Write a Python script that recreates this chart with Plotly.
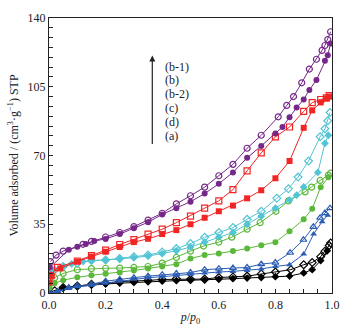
import plotly.graph_objects as go

# ---- data (p/p0, volume adsorbed) ----
# (b-1) purple circles
b1_ads_p = [0.003, 0.07, 0.1, 0.13, 0.16, 0.2, 0.25, 0.3, 0.35, 0.4, 0.45, 0.5, 0.55, 0.6, 0.65, 0.7, 0.75, 0.8, 0.825, 0.85, 0.875, 0.9, 0.92, 0.945, 0.975, 0.985, 0.995]
b1_ads_v = [13, 22, 23.5, 25, 26.5, 27.5, 30, 33, 36, 40, 43.2, 46.5, 50.6, 55.6, 61.4, 68.8, 74.9, 81.2, 84.5, 89.5, 94.4, 98.5, 103.4, 108.4, 118.3, 121, 127]
b1_des_p = [0.995, 0.985, 0.975, 0.965, 0.945, 0.92, 0.893, 0.864, 0.84, 0.81, 0.75, 0.7, 0.65, 0.6, 0.55, 0.5, 0.45, 0.4, 0.35, 0.3, 0.25, 0.2, 0.15, 0.12, 0.05, 0.025, 0.005]
b1_des_v = [133, 129, 126, 123.5, 119, 114, 107, 100, 95.5, 89.7, 80.3, 73.7, 65.5, 59.7, 53.9, 49.5, 45.4, 40.6, 37.1, 33.8, 30.8, 28.5, 26.3, 24.8, 21.3, 19.3, 16]

# (b) red squares
b_ads_p = [0.002, 0.01, 0.04, 0.1, 0.15, 0.2, 0.25, 0.3, 0.35, 0.4, 0.45, 0.5, 0.55, 0.6, 0.65, 0.7, 0.75, 0.8, 0.85, 0.9, 0.93, 0.96, 0.98, 0.99]
b_ads_v = [5.3, 8.5, 12.5, 16, 18.5, 21, 23.4, 25.9, 27.6, 30, 32, 35, 38.3, 41.6, 44.5, 48.2, 52.3, 58.4, 67.2, 84.1, 93, 97, 99, 100]
b_des_p = [0.99, 0.98, 0.96, 0.93, 0.9, 0.85, 0.8, 0.75, 0.7, 0.65, 0.6, 0.55, 0.5, 0.45, 0.4, 0.35, 0.3, 0.25, 0.2, 0.15, 0.1, 0.03, 0.005]
b_des_v = [100.5, 99.3, 98.5, 96.9, 92.5, 84.5, 79.5, 71.3, 62.2, 52.6, 46.9, 43.2, 39.1, 35.8, 32.5, 30, 27.2, 24.7, 21.8, 19, 16.3, 13, 9]

# (b-2) cyan diamonds
b2_ads_p = [0.002, 0.02, 0.05, 0.08, 0.12, 0.15, 0.2, 0.25, 0.3, 0.35, 0.4, 0.45, 0.5, 0.55, 0.6, 0.65, 0.7, 0.75, 0.8, 0.85, 0.875, 0.9, 0.95, 0.975, 0.987]
b2_ads_v = [10, 12, 13.5, 14.8, 16, 16.5, 16.8, 17.3, 18, 18.8, 20, 21.5, 23.4, 25.9, 28.4, 30.8, 35, 39.1, 43.2, 47.4, 49.8, 54, 61.4, 76.2, 80.3]
b2_des_p = [0.993, 0.985, 0.975, 0.958, 0.917, 0.88, 0.846, 0.805, 0.75, 0.7, 0.65, 0.6, 0.55, 0.5, 0.45, 0.4, 0.35, 0.3, 0.25, 0.2, 0.15, 0.1, 0.05, 0.005]
b2_des_v = [91.9, 87.7, 83.6, 79.5, 67.2, 59, 53.1, 48.2, 41.6, 37.5, 33.3, 30.8, 28.4, 25.2, 22.6, 20.9, 19.3, 18.5, 17.6, 16.8, 16.5, 15.2, 13.5, 11]

# (c) green circles
c_ads_p = [0.002, 0.02, 0.05, 0.1, 0.15, 0.2, 0.25, 0.3, 0.35, 0.4, 0.45, 0.5, 0.55, 0.6, 0.65, 0.7, 0.75, 0.8, 0.85, 0.9, 0.93, 0.96, 0.987]
c_ads_v = [2.8, 5, 6.5, 8, 9, 9.8, 10.5, 11.5, 12.5, 13.5, 14.7, 17.6, 19.3, 20.1, 21.4, 22.6, 24.3, 25.9, 31.4, 37.5, 42.9, 53.9, 58.9]
c_des_p = [0.995, 0.987, 0.958, 0.928, 0.905, 0.846, 0.802, 0.746, 0.7, 0.646, 0.6, 0.546, 0.5, 0.45, 0.4, 0.35, 0.3, 0.25, 0.2, 0.15, 0.1, 0.05, 0.02]
c_des_v = [61, 60, 57.3, 53.9, 51.5, 46.9, 41.6, 35.8, 32.5, 28.4, 25.9, 23.9, 21.3, 18.1, 15.2, 13.5, 13, 12.7, 12.6, 12.4, 11.9, 10, 7.8]

# (d) blue triangles
d_ads_p = [0.002, 0.03, 0.07, 0.1, 0.15, 0.2, 0.25, 0.3, 0.35, 0.4, 0.45, 0.5, 0.55, 0.6, 0.65, 0.7, 0.75, 0.8, 0.85, 0.9, 0.935, 0.965, 0.985]
d_ads_v = [0, 0.5, 2.3, 3.2, 4, 5, 6, 7, 7.8, 8.3, 8.9, 9.4, 10.2, 10.7, 11, 11.5, 12.2, 13.5, 14.4, 19.8, 30, 36.3, 39.6]
d_des_p = [0.993, 0.975, 0.958, 0.934, 0.899, 0.852, 0.8, 0.75, 0.7, 0.65, 0.6, 0.55, 0.5, 0.45, 0.4, 0.35, 0.3, 0.25, 0.2, 0.15, 0.1, 0.07, 0.03, 0.005]
d_des_v = [43.2, 40.7, 38.3, 33.7, 27.1, 20.5, 15.5, 14.7, 13, 12.7, 12.4, 11.9, 10.4, 9.9, 9.3, 8.6, 7.8, 6.9, 6, 4.5, 3.6, 2.8, 0.8, 0.2]

# (a) black diamonds
a_ads_p = [0.002, 0.05, 0.1, 0.15, 0.2, 0.25, 0.3, 0.35, 0.4, 0.45, 0.5, 0.55, 0.6, 0.65, 0.7, 0.75, 0.8, 0.85, 0.9, 0.93, 0.96, 0.983]
a_ads_v = [0.5, 2.5, 3.3, 4, 4.6, 5, 5.4, 5.7, 6, 6.3, 6.5, 6.6, 7, 7.3, 7.6, 7.9, 8.3, 8.6, 10.2, 11.9, 16.5, 21.5]
a_des_p = [0.995, 0.99, 0.975, 0.96, 0.93, 0.9, 0.855, 0.8, 0.75, 0.7, 0.65, 0.6, 0.55, 0.5, 0.45, 0.4, 0.35, 0.3, 0.25, 0.2, 0.15, 0.1, 0.05, 0.02]
a_des_v = [25.5, 24.2, 21.3, 18.5, 15.5, 14.4, 11.9, 10.7, 9.7, 8.6, 8.2, 7.9, 7.1, 7, 7.2, 6.9, 6.4, 6.1, 5.8, 5.1, 4.5, 3.6, 2.8, 1.2]

legend_labels = ["(b-1)", "(b)", "(b-2)", "(c)", "(d)", "(a)"]

series = [
    # (name, colour, symbol, ads_p, ads_v, des_p, des_v)
    ("(a)", "#000000", "diamond", a_ads_p, a_ads_v, a_des_p, a_des_v),
    ("(d)", "#2b5db5", "triangle-up", d_ads_p, d_ads_v, d_des_p, d_des_v),
    ("(c)", "#5cb83a", "circle", c_ads_p, c_ads_v, c_des_p, c_des_v),
    ("(b-2)", "#52c4d3", "diamond", b2_ads_p, b2_ads_v, b2_des_p, b2_des_v),
    ("(b)", "#f22525", "square", b_ads_p, b_ads_v, b_des_p, b_des_v),
    ("(b-1)", "#76288a", "circle", b1_ads_p, b1_ads_v, b1_des_p, b1_des_v),
]

fig = go.Figure()
for name, col, sym, ap, av, dp, dv in series:
    fig.add_trace(go.Scatter(
        x=dp, y=dv, mode="lines+markers", name=name + " des",
        line=dict(color=col, width=1),
        marker=dict(symbol=sym + "-open", size=6, color=col, line=dict(color=col, width=1.2)),
        showlegend=False))
    fig.add_trace(go.Scatter(
        x=ap, y=av, mode="lines+markers", name=name + " ads",
        line=dict(color=col, width=1),
        marker=dict(symbol=sym, size=6, color=col, line=dict(width=0)),
        showlegend=False))

FONT = "Liberation Serif, Times New Roman, serif"

fig.update_layout(
    width=351, height=333,
    margin=dict(l=49, r=19, t=11, b=39),
    paper_bgcolor="white", plot_bgcolor="white",
    font=dict(family=FONT, size=12, color="#222"),
    xaxis=dict(range=[0, 1], dtick=0.2, tickformat=".1f", ticks="inside", ticklen=4,
               tickcolor="#222", showline=True, linecolor="#222", linewidth=1.2, mirror=True,
               showgrid=False, zeroline=False,
               minor=dict(dtick=0.05, ticks="inside", ticklen=4, tickcolor="#222"),
               title=dict(text="<i>p</i>/<i>p</i><sub>0</sub>", standoff=2, font=dict(size=12))),
    yaxis=dict(range=[0, 140], dtick=35, ticks="inside", ticklen=4,
               tickcolor="#222", showline=True, linecolor="#222", linewidth=1.2, mirror=True,
               showgrid=False, zeroline=False,
               minor=dict(dtick=5, ticks="inside", ticklen=4, tickcolor="#222"),
               title=dict(text="Volume adsorbed / (cm<sup>3</sup>·g<sup>−1</sup>) STP", standoff=6,
                          font=dict(size=12))),
)

# arrow
fig.add_annotation(xref="paper", yref="paper", x=0.365, y=0.864, text="", showarrow=True,
                   ax=0, ay=90, arrowhead=2, arrowsize=1, arrowwidth=1.2, arrowcolor="#222")
label_y = [61, 75, 89, 104, 118, 132]
for lab, py in zip(legend_labels, label_y):
    fig.add_annotation(xref="paper", yref="paper", x=0.404, y=(294 - py) / 283,
                       text=lab, showarrow=False, xanchor="left", yanchor="middle",
                       font=dict(family=FONT, size=12, color="#222"))

fig.write_html("out.html", config={"displayModeBar": False},
               post_script="document.body.style.margin='0';document.body.style.overflow='hidden';")
